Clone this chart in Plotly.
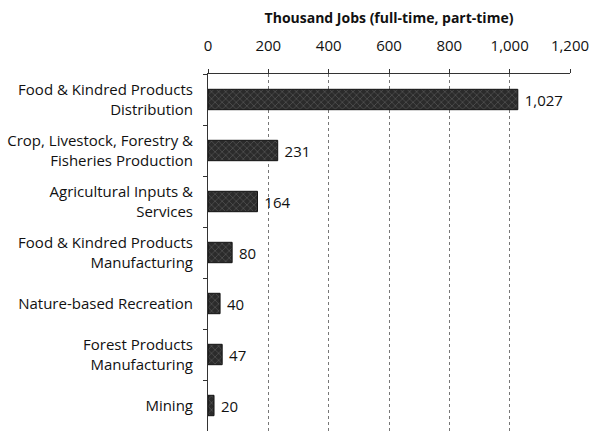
import plotly.graph_objects as go

categories = [
    "Food & Kindred Products<br>Distribution",
    "Crop, Livestock, Forestry &<br>Fisheries Production",
    "Agricultural Inputs &<br>Services",
    "Food & Kindred Products<br>Manufacturing",
    "Nature-based Recreation",
    "Forest Products<br>Manufacturing",
    "Mining",
]
values = [1027, 231, 164, 80, 40, 47, 20]
labels = ["1,027", "231", "164", "80", "40", "47", "20"]
x_ticks = [0, 200, 400, 600, 800, 1000, 1200]
x_tick_text = ["0", "200", "400", "600", "800", "1,000", "1,200"]

FONT = "Open Sans, Liberation Sans, sans-serif"

fig = go.Figure(go.Bar(
    y=categories,
    x=values,
    orientation="h",
    text=labels,
    texttemplate=" %{text}",
    textposition="outside",
    textfont=dict(size=15, color="#111", family=FONT),
    cliponaxis=False,
    marker=dict(
        color="#2b2b2b",
        line=dict(color="#111", width=1),
        pattern=dict(shape="x", fgcolor="#999999", bgcolor="#2b2b2b", size=5, solidity=0.2),
    ),
))

fig.update_layout(
    width=591, height=431,
    margin=dict(l=208, r=21, t=74, b=0, autoexpand=False),
    paper_bgcolor="white", plot_bgcolor="white",
    showlegend=False,
    bargap=0.6,
    font=dict(family=FONT, color="#111", size=14),
    title=dict(
        text="<b>Thousand Jobs (full-time, part-time)</b>",
        x=(208 + 570) / 2 / 591, xanchor="center",
        y=1 - 18 / 431, yanchor="middle",
        font=dict(size=14, family=FONT, color="#111"),
    ),
)

fig.update_xaxes(
    side="top",
    range=[0, 1200],
    tickvals=x_ticks,
    ticktext=x_tick_text,
    tickfont=dict(size=15, family=FONT, color="#111"),
    showline=True, linecolor="#333", linewidth=1,
    ticks="outside", ticklen=4, tickcolor="#333",
    showgrid=True, gridcolor="#777", griddash="dot", gridwidth=1,
    zeroline=False,
    automargin=False,
    ticklabelstandoff=12,
)

fig.update_yaxes(
    autorange="reversed",
    categoryorder="array", categoryarray=categories,
    tickfont=dict(size=15, family=FONT, color="#111"),
    showline=True, linecolor="#333", linewidth=1,
    ticks="outside", ticklen=4, tickcolor="#333",
    tickson="boundaries",
    automargin=False,
    ticklabelstandoff=11,
    showgrid=False,
)

fig.write_html(
    "out.html",
    config={"displayModeBar": False},
    post_script="document.body.style.margin='0';document.body.style.overflow='hidden';",
)
